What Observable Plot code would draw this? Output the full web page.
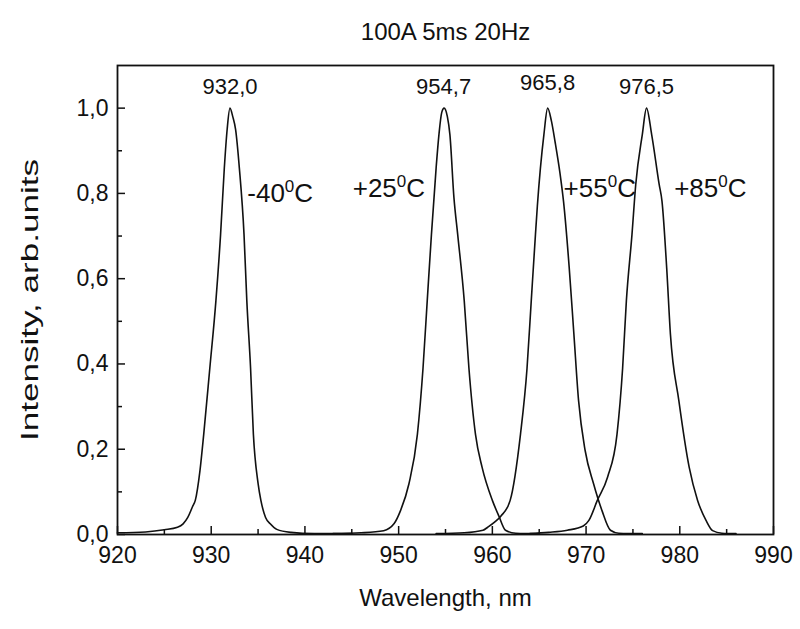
<!DOCTYPE html>
<html><head><meta charset="utf-8">
<script src="https://cdn.jsdelivr.net/npm/d3@7"></script>
<script src="https://cdn.jsdelivr.net/npm/@observablehq/plot@0.6"></script>
<style>html,body{margin:0;padding:0;background:#fff}svg{display:block}</style>
</head><body><div id="chart"></div>
<script>
// ---- data ----
const chartTitle = "100A 5ms 20Hz";
const xLabel = "Wavelength, nm";
const yLabel = "Intensity, arb.units";

const xMajorTicks = [920, 930, 940, 950, 960, 970, 980, 990];
const xMinorTicks = [925, 935, 945, 955, 965, 975, 985];
const yMajorTicks = [0, 0.2, 0.4, 0.6, 0.8, 1.0];
const yMinorTicks = [0.1, 0.3, 0.5, 0.7, 0.9];

const wlM40 = [920, 923, 925, 926.4, 927.0, 927.5, 928.0, 928.3, 928.8, 929.2, 929.85, 930.5, 931.0, 931.4, 931.7, 932.0, 932.3, 932.6, 933.0, 933.5, 933.8, 934.2, 934.5, 935.0, 935.3, 935.8, 936.3, 937.0, 938.5, 941, 945];
const inM40 = [0.004, 0.006, 0.011, 0.017, 0.025, 0.04, 0.065, 0.08, 0.15, 0.235, 0.39, 0.548, 0.704, 0.86, 0.95, 1.0, 0.98, 0.95, 0.86, 0.704, 0.548, 0.39, 0.235, 0.12, 0.08, 0.04, 0.025, 0.012, 0.005, 0.002, 0.002];

const wlP25 = [943, 946, 948.4, 949.5, 950.2, 951.1, 952.0, 952.6, 953.05, 953.5, 954.0, 954.3, 954.6, 954.85, 955.2, 955.47, 955.9, 956.3, 957.0, 957.5, 958.2, 958.9, 960.0, 960.7, 961.4, 962.5, 965];
const inP25 = [0.002, 0.004, 0.009, 0.025, 0.056, 0.119, 0.235, 0.39, 0.548, 0.704, 0.86, 0.938, 0.99, 1.0, 0.98, 0.938, 0.79, 0.704, 0.548, 0.39, 0.235, 0.158, 0.08, 0.043, 0.01, 0.003, 0.002];

const wlP55 = [954, 957, 959.0, 959.5, 960.3, 960.9, 961.9, 963.0, 963.7, 964.15, 964.6, 964.8, 965.5, 965.9, 966.3, 966.7, 967.2, 967.6, 968.2, 968.7, 969.2, 969.9, 970.8, 971.7, 972.6, 973.5, 976];
const inP55 = [0.002, 0.004, 0.01, 0.017, 0.03, 0.043, 0.08, 0.235, 0.39, 0.548, 0.704, 0.77, 0.938, 1.0, 0.97, 0.92, 0.85, 0.78, 0.626, 0.47, 0.314, 0.197, 0.119, 0.056, 0.01, 0.003, 0.002];

const wlP85 = [964, 966, 968, 969.7, 970.3, 971.2, 972.3, 973.3, 973.9, 974.3, 974.9, 975.3, 976.0, 976.45, 977.0, 977.8, 978.1, 978.6, 979.0, 979.9, 981.0, 981.9, 982.8, 983.5, 984.5, 986];
const inP85 = [0.002, 0.005, 0.01, 0.02, 0.033, 0.08, 0.135, 0.235, 0.39, 0.548, 0.704, 0.821, 0.938, 1.0, 0.938, 0.821, 0.782, 0.626, 0.47, 0.314, 0.158, 0.08, 0.033, 0.009, 0.003, 0.002];

const peakLabels = ["932,0", "954,7", "965,8", "976,5"];
const peakLabelX = [932.0, 954.8, 965.9, 976.45];
const peakLabelY = [1.0, 1.0, 1.01, 1.0];

const tempLabels = ["-40\u2070C", "+25\u2070C", "+55\u2070C", "+85\u2070C"];
const tempLabelX = [933.85, 945.1, 967.6, 979.4];
const tempLabelY = [0.80, 0.81, 0.81, 0.81];

// ---- build tables ----
const seriesDefs = [["-40", wlM40, inM40], ["+25", wlP25, inP25], ["+55", wlP55, inP55], ["+85", wlP85, inP85]];
const rows = seriesDefs.flatMap(([s, xs, ys]) => xs.map((x, i) => ({series: s, wl: x, v: ys[i]})));
const peaks = peakLabels.map((t, i) => ({t, x: peakLabelX[i], y: peakLabelY[i]}));
const temps = tempLabels.map((t, i) => ({t, x: tempLabelX[i], y: tempLabelY[i]}));

const W = 800, H = 629;
const mT = 65, mB = 95, mL = 117, mR = 27;
const frameH = H - mT - mB, frameW = W - mL - mR;
const font = "'Liberation Sans', Arial, Helvetica, sans-serif";
const fmtY = d => d3.format(".1f")(d).replace(".", ",");

const chart = Plot.plot({
  width: W, height: H,
  marginTop: mT, marginBottom: mB, marginLeft: mL, marginRight: mR,
  style: {fontFamily: font, fontSize: "22px", color: "#111", background: "#fff"},
  x: {domain: [920, 990], axis: null},
  y: {domain: [0, 1.1], axis: null},
  marks: [
    Plot.axisX({ticks: xMajorTicks, tickSize: 0, tickPadding: 12, tickFormat: d => String(d), label: null, fontSize: 23}),
    Plot.axisY({ticks: yMajorTicks, tickSize: 0, tickPadding: 9, tickFormat: fmtY, label: null, fontSize: 23}),
    Plot.tickX(xMajorTicks, {x: d => d, insetTop: frameH - 8, stroke: "#111", strokeWidth: 1.5}),
    Plot.tickX(xMinorTicks, {x: d => d, insetTop: frameH - 5, stroke: "#111", strokeWidth: 1.5}),
    Plot.tickY(yMajorTicks, {y: d => d, insetRight: frameW - 8, stroke: "#111", strokeWidth: 1.5}),
    Plot.tickY(yMinorTicks, {y: d => d, insetRight: frameW - 5, stroke: "#111", strokeWidth: 1.5}),
    Plot.line(rows, {x: "wl", y: "v", z: "series", stroke: "#111", strokeWidth: 1.6, curve: "monotone-x"}),
    Plot.frame({stroke: "#111", strokeWidth: 1.8}),
    Plot.text(peaks, {x: "x", y: "y", text: "t", dy: -21, fontSize: 22, fill: "#111"}),
    Plot.text(temps, {x: "x", y: "y", text: "t", textAnchor: "start", fontSize: 26, fill: "#111"}),
    Plot.text([chartTitle], {frameAnchor: "top", dy: -43, text: d => d, fontSize: 24, fill: "#111"}),
    Plot.text([xLabel], {frameAnchor: "bottom", dy: 71, text: d => d, fontSize: 24, fill: "#111"}),
    Plot.text([yLabel], {frameAnchor: "left", dx: -87, rotate: -90, textAnchor: "middle", text: d => d, fontSize: 24, fill: "#111"})
  ]
});

const ns = "http://www.w3.org/2000/svg";
chart.querySelectorAll("text").forEach(el => {
  const s = el.textContent;
  // superscript "0" in the temperature labels
  if (s.includes("\u2070")) {
    const [a, b] = s.split("\u2070");
    while (el.firstChild) el.removeChild(el.firstChild);
    const t1 = document.createElementNS(ns, "tspan"); t1.textContent = a;
    const t2 = document.createElementNS(ns, "tspan"); t2.textContent = "0";
    t2.setAttribute("font-size", "17"); t2.setAttribute("dy", "-10");
    const t3 = document.createElementNS(ns, "tspan"); t3.textContent = b;
    t3.setAttribute("dy", "10");
    el.append(t1, t2, t3);
  }
  // the rotated axis title in the reference is drawn elongated
  if (s === yLabel) {
    el.setAttribute("textLength", "282");
    el.setAttribute("lengthAdjust", "spacingAndGlyphs");
  }
});

document.getElementById("chart").appendChild(chart);
</script>
</body></html>
